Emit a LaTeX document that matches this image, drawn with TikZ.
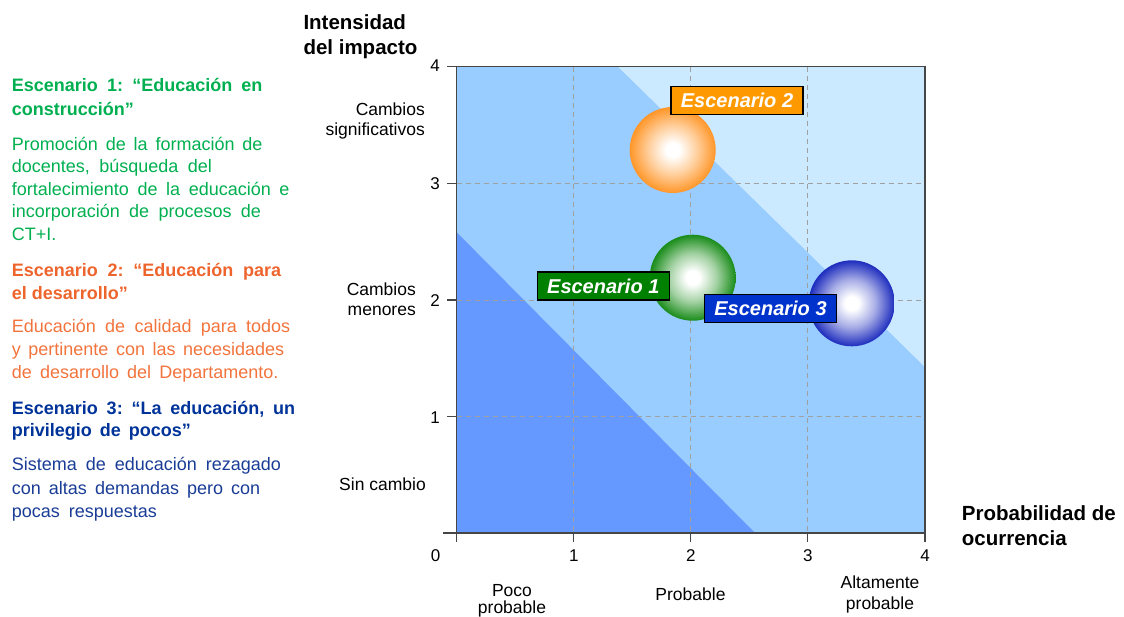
\documentclass[tikz,border=0pt]{standalone}
\usepackage{fontspec}
\setmainfont{Liberation Sans}
\frenchspacing
\definecolor{regdark}{RGB}{102,153,255}
\definecolor{regmid}{RGB}{153,204,255}
\definecolor{reglight}{RGB}{204,234,255}
\definecolor{gridgray}{RGB}{160,160,160}
\definecolor{axisgray}{RGB}{70,70,70}
\definecolor{esc1}{RGB}{0,128,0}
\definecolor{esc2}{RGB}{255,153,0}
\definecolor{esc3}{RGB}{0,51,204}
\definecolor{txtgreen}{RGB}{0,176,80}
\definecolor{txtorangeh}{RGB}{238,100,45}
\definecolor{txtorange}{RGB}{242,115,60}
\definecolor{txtblueh}{RGB}{0,51,153}
\definecolor{txtblue}{RGB}{25,60,150}
\definecolor{ballorange}{RGB}{255,150,40}
\definecolor{ballgreen}{RGB}{25,140,25}
\definecolor{ballblue}{RGB}{30,45,190}
\pgfdeclareradialshading{shorange}{\pgfpointorigin}{color(0bp)=(white); color(4bp)=(white); color(14bp)=(ballorange!45!white); color(25bp)=(ballorange); color(50bp)=(ballorange)}
\pgfdeclareradialshading{shgreen}{\pgfpointorigin}{color(0bp)=(white); color(4bp)=(white); color(14bp)=(ballgreen!40!white); color(25bp)=(ballgreen); color(50bp)=(ballgreen)}
\pgfdeclareradialshading{shblue}{\pgfpointorigin}{color(0bp)=(white); color(4bp)=(white); color(14bp)=(ballblue!40!white); color(25bp)=(ballblue); color(50bp)=(ballblue)}
\tikzset{
  gridline/.style={draw=gridgray, line width=1pt, dash pattern=on 5pt off 4pt},
  axisline/.style={draw=axisgray, line width=1.3pt},
  esclabel/.style={draw=black, line width=1.2pt, text=white, inner sep=0pt,
    minimum width=132pt, minimum height=28pt,
    font=\fontsize{20}{24}\selectfont\bfseries\itshape},
  ball/.style={circle, inner sep=0pt, minimum size=86pt, shade},
  lefttxt/.style={anchor=base west, inner sep=0pt, font=\fontsize{18}{22}\selectfont},
  lefthead/.style={lefttxt, font=\fontsize{18}{22}\selectfont\bfseries},
  ticklbl/.style={inner sep=0pt, font=\fontsize{17}{20}\selectfont},
  catlbl/.style={inner sep=0pt, font=\fontsize{17.5}{21}\selectfont},
  axtitle/.style={anchor=base west, inner sep=0pt, font=\fontsize{20.5}{24}\selectfont\bfseries}
}
\begin{document}
\begin{tikzpicture}[x=1pt,y=-1pt]
\useasboundingbox (0,0) rectangle (1124,616);
% regions
\fill[regmid] (456.7,66.7) rectangle (925,533);
\fill[reglight] (618,66.7) -- (925,66.7) -- (925,367) -- cycle;
\fill[regdark] (456.7,232.3) -- (456.7,533) -- (755,533) -- cycle;
% grid
\foreach \gx in {573.8,690.8,807.8} \draw[gridline] (\gx,66.7) -- (\gx,533);
\foreach \gy in {183.3,300,416.7} \draw[gridline] (456.7,\gy) -- (925,\gy);
% frame and ticks
\draw[axisline] (456.7,66.7) rectangle (925,533);
\draw[axisline] (443,533) -- (456.7,533);
\foreach \ty in {66.7,183.3,300,416.7} \draw[axisline] (447,\ty) -- (456.7,\ty);
\foreach \tx in {456.7,573.8,690.8,807.8,925} \draw[axisline] (\tx,533) -- (\tx,542);
% tick labels
\node[ticklbl, anchor=base east] (y4) at (440,71) {4};
\node[ticklbl, anchor=base east] (y3) at (440,189.5) {3};
\node[ticklbl, anchor=base east] (y2) at (440,306.5) {2};
\node[ticklbl, anchor=base east] (y1) at (440,423.2) {1};
\node[ticklbl, anchor=base] (x0) at (435.5,561) {0};
\node[ticklbl, anchor=base] (x1) at (573.8,561) {1};
\node[ticklbl, anchor=base] (x2) at (690.8,561) {2};
\node[ticklbl, anchor=base] (x3) at (807.8,561) {3};
\node[ticklbl, anchor=base] (x4) at (925,561) {4};
% category labels
\node[catlbl, anchor=base east] (c1a) at (425,115) {Cambios};
\node[catlbl, anchor=base east] (c1b) at (425,135.5) {significativos};
\node[catlbl, anchor=base east] (c2a) at (416,295) {Cambios};
\node[catlbl, anchor=base east] (c2b) at (416,315.5) {menores};
\node[catlbl, anchor=base east] (c3) at (426,490) {Sin cambio};
\node[catlbl, anchor=base] (p1a) at (512,596) {Poco};
\node[catlbl, anchor=base] (p1b) at (512,613.5) {probable};
\node[catlbl, anchor=base] (p2) at (690.5,600) {Probable};
\node[catlbl, anchor=base] (p3a) at (880,588) {Altamente};
\node[catlbl, anchor=base] (p3b) at (880,609) {probable};
% axis titles
\node[axtitle] (ty1) at (303.3,29.3) {Intensidad};
\node[axtitle] (ty2) at (303.3,54.3) {del impacto};
\node[axtitle] (tx1) at (961.7,520) {Probabilidad de};
\node[axtitle] (tx2) at (961.7,545) {ocurrencia};
% bubbles
\node[ball, shading=shorange] (b2) at (672.7,150) {};
\node[ball, shading=shgreen] (b1) at (692.7,277.7) {};
\node[ball, shading=shblue] (b3) at (851.7,303.3) {};
% bubble labels
\node[esclabel, fill=esc2] (l2) at (737,100.5) {Escenario 2};
\node[esclabel, fill=esc1] (l1) at (603.3,286) {Escenario 1};
\node[esclabel, fill=esc3] (l3) at (770.5,308.5) {Escenario 3};
% left text
\node[lefthead, text=txtgreen] (s1a) at (11.7,91.7) {\makebox[250.6pt][s]{Escenario 1: “Educación en}};
\node[lefthead, text=txtgreen] (s1b) at (11.7,115) {construcción”};
\node[lefttxt, text=txtgreen] (d1a) at (11.7,150.7) {\makebox[250.6pt][s]{Promoción de la formación de}};
\node[lefttxt, text=txtgreen] (d1b) at (11.7,172.9) {\makebox[200pt][s]{docentes, búsqueda del}};
\node[lefttxt, text=txtgreen] (d1c) at (11.7,195.2) {\makebox[277.6pt][s]{fortalecimiento de la educación e}};
\node[lefttxt, text=txtgreen] (d1d) at (11.7,217.5) {\makebox[249pt][s]{incorporación de procesos de}};
\node[lefttxt, text=txtgreen] (d1e) at (11.7,240.5) {CT+I.};
\node[lefthead, text=txtorangeh] (s2a) at (11.7,276.7) {\makebox[269.3pt][s]{Escenario 2: “Educación para}};
\node[lefthead, text=txtorangeh] (s2b) at (11.7,299.2) {el desarrollo”};
\node[lefttxt, text=txtorange] (d2a) at (11.7,332.3) {\makebox[278.3pt][s]{Educación de calidad para todos}};
\node[lefttxt, text=txtorange] (d2b) at (11.7,355.5) {\makebox[272.3pt][s]{y pertinente con las necesidades}};
\node[lefttxt, text=txtorange] (d2c) at (11.7,378.5) {\makebox[266.6pt][s]{de desarrollo del Departamento.}};
\node[lefthead, text=txtblueh] (s3a) at (11.7,414) {\makebox[283.3pt][s]{Escenario 3: “La educación, un}};
\node[lefthead, text=txtblueh] (s3b) at (11.7,436.5) {\makebox[179pt][s]{privilegio de pocos”}};
\node[lefttxt, text=txtblue] (d3a) at (11.7,470.5) {\makebox[269pt][s]{Sistema de educación rezagado}};
\node[lefttxt, text=txtblue] (d3b) at (11.7,494) {\makebox[248.3pt][s]{con altas demandas pero con}};
\node[lefttxt, text=txtblue] (d3c) at (11.7,517) {\makebox[145pt][s]{pocas respuestas}};
\end{tikzpicture}
\end{document}
